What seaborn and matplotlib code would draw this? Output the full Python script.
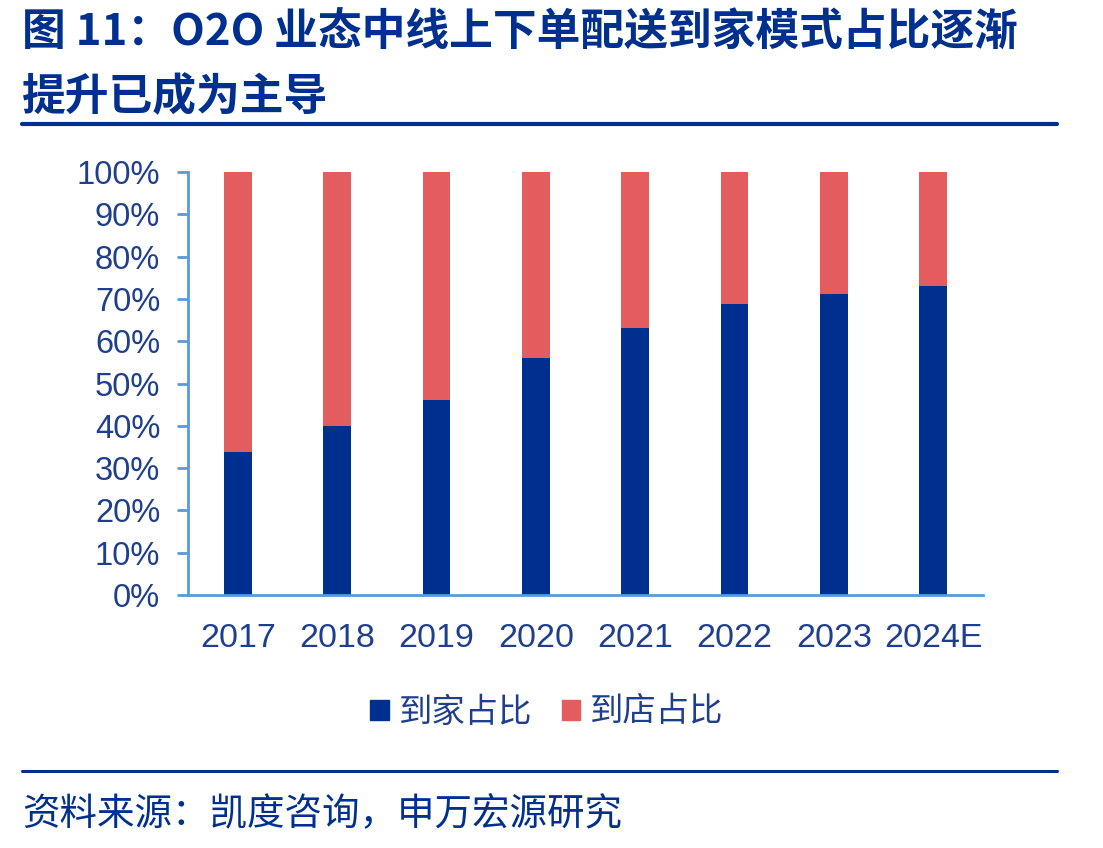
import pandas as pd
import seaborn as sns
import matplotlib.pyplot as plt
from matplotlib.patches import Patch
from matplotlib.ticker import FixedLocator

# Datos
years = ['2017', '2018', '2019', '2020', '2021', '2022', '2023', '2024E']
home_share = [33.8, 40.0, 46.1, 56.0, 63.1, 68.8, 71.2, 73.0]   # 到家占比
store_share = [100 - v for v in home_share]                      # 到店占比

df = pd.DataFrame({'year': years, 'home': home_share, 'store': store_share})
df['total'] = df['home'] + df['store']

blue = '#00308F'
red = '#E35D5E'
axis_c = '#5B9BD5'
text_c = '#1F3F8E'

sns.set_style('white')
plt.rcParams['font.family'] = ['Liberation Sans', 'Noto Sans CJK SC', 'DejaVu Sans']

fig = plt.figure(figsize=(11.03, 8.48), dpi=100)
ax = fig.add_axes([188 / 1103, 1 - 595 / 848, (983 - 188) / 1103, (595 - 172) / 848])

# Barras apiladas: primero el total (rojo), encima la parte azul
sns.barplot(data=df, x='year', y='total', color=red, width=0.28, ax=ax,
            saturation=1, linewidth=0)
sns.barplot(data=df, x='year', y='home', color=blue, width=0.28, ax=ax,
            saturation=1, linewidth=0)

ax.set_xlim(-0.5, len(years) - 0.5)
ax.set_ylim(0, 100)
ax.set_xlabel('')
ax.set_ylabel('')

ax.set_yticks(range(0, 101, 10))
ax.set_yticklabels([f'{v}%' for v in range(0, 101, 10)])
ax.xaxis.set_minor_locator(FixedLocator([i - 0.5 for i in range(len(years) + 1)]))
ax.tick_params(axis='x', which='major', length=0, pad=20, labelsize=24.5, labelcolor=text_c)
ax.tick_params(axis='x', which='minor', length=8, width=2, color=axis_c, direction='out')
ax.tick_params(axis='y', length=8, width=2, color=axis_c, direction='out', pad=12,
               labelsize=23.5, labelcolor=text_c)
ax.tick_params(left=True, bottom=True)

for s in ['top', 'right']:
    ax.spines[s].set_visible(False)
for s in ['left', 'bottom']:
    ax.spines[s].set_color(axis_c)
    ax.spines[s].set_linewidth(2)

# Leyenda
handles = [Patch(color=blue, label='到家占比'), Patch(color=red, label='到店占比')]
fig.legend(handles=handles, loc='center', bbox_to_anchor=(547 / 1103, 1 - 712 / 848),
           ncol=2, frameon=False, handlelength=0.55, handleheight=0.55, handletextpad=0.3,
           columnspacing=0.9, prop={'family': ['Noto Sans CJK SC'], 'size': 24},
           labelcolor=text_c)

# Título, líneas y fuente
fig.text(22 / 1103, 1 - 33 / 848, '图 11：O2O 业态中线上下单配送到家模式占比逐渐',
         family=['Noto Sans CJK SC'], fontweight='heavy', fontsize=31.5, color=blue, va='center')
fig.text(22 / 1103, 1 - 97 / 848, '提升已成为主导',
         family=['Noto Sans CJK SC'], fontweight='heavy', fontsize=31.5, color=blue, va='center')
fig.add_artist(plt.Line2D([22 / 1103, 1057 / 1103], [1 - 124 / 848] * 2, color=blue, lw=3))
fig.add_artist(plt.Line2D([22 / 1103, 1057 / 1103], [1 - 771 / 848] * 2, color=blue, lw=2.2))
fig.text(22 / 1103, 1 - 815 / 848, '资料来源：凯度咨询，申万宏源研究',
         family=['Noto Sans CJK SC'], fontsize=27, color=blue, va='center')

plt.savefig('out.png', dpi=100)
